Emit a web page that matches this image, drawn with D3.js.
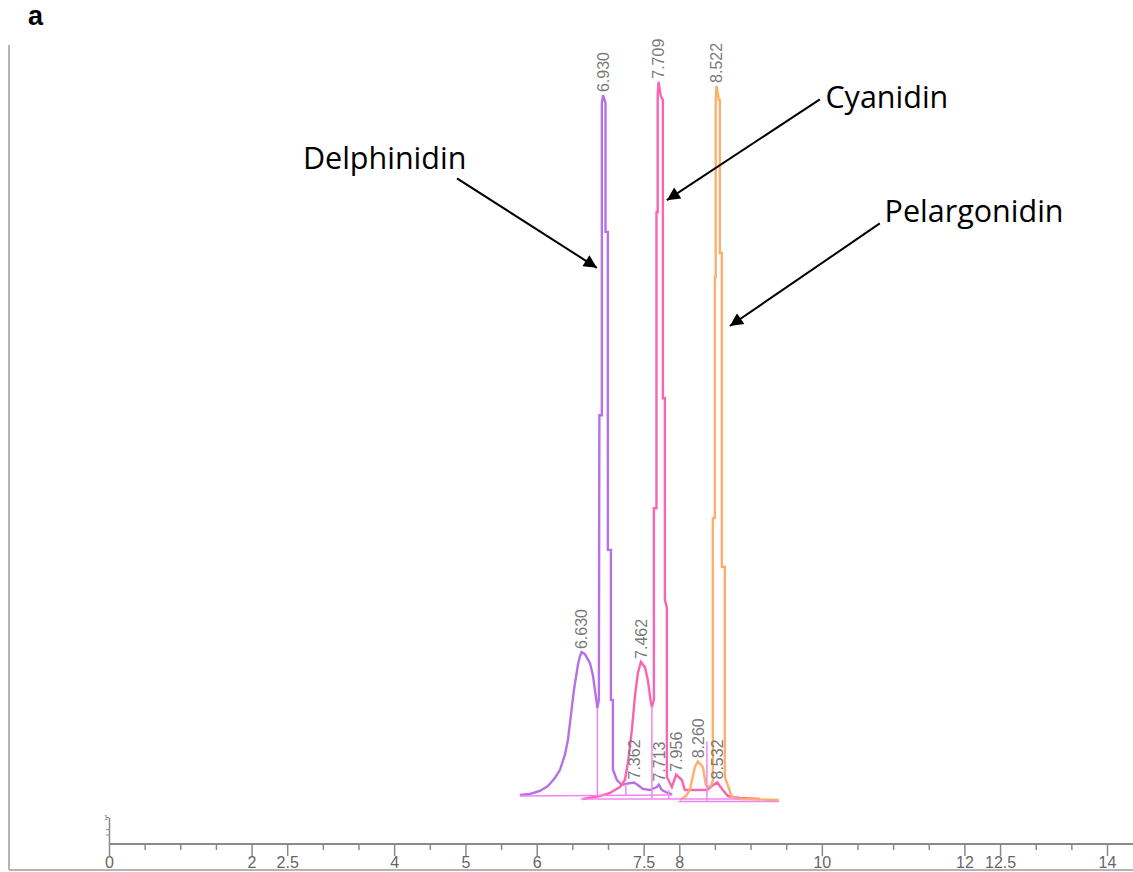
<!DOCTYPE html>
<html>
<head>
<title>Anthocyanidin chromatogram</title>
<script src="https://d3js.org/d3.v7.min.js" charset="utf-8"></script>
<style>
body {
    margin: 0;
    background: white;
}
svg { display: block; }
.peak-label {
    font-family: "Liberation Sans", Arial, sans-serif;
    font-size: 16px;
    fill: #7a7a7a;
}
.name {
    font-family: "Open Sans", "Noto Sans", sans-serif;
    font-size: 30.5px;
    fill: #000;
}
</style>
</head>
<body>
<script>
// traces: [retention time (min), relative intensity]
var delphinidin = [
  [5.764,0.43],[5.905,0.57],[6.045,0.99],[6.157,1.70],[6.255,2.84],[6.325,3.97],[6.395,6.10],
  [6.438,8.23],[6.480,11.77],[6.522,15.32],[6.578,18.87],[6.606,20.1],[6.630,20.7],[6.676,20.4],
  [6.746,19.15],[6.788,17.45],[6.830,14.33],[6.851,12.77],[6.872,13.9],[6.879,54.3],[6.914,54.3],
  [6.914,98.6],[6.930,99.7],[6.965,98.6],[6.965,80.3],[6.998,80.3],[6.998,35.2],[7.041,35.2],
  [7.041,13.9],[7.069,13.9],[7.069,4.0],[7.125,2.55],[7.195,1.84],[7.251,2.0],[7.362,2.2],
  [7.419,1.84],[7.489,1.28],[7.587,1.13],[7.686,1.56],[7.713,1.9],[7.756,1.13],[7.840,0.71],[7.900,0.5]
];
var cyanidin = [
  [6.648,-0.14],[6.886,0.28],[7.027,0.71],[7.167,1.56],[7.237,2.55],[7.279,4.96],[7.335,9.65],
  [7.377,14.33],[7.419,17.73],[7.462,19.3],[7.517,18.58],[7.559,16.74],[7.601,13.62],[7.616,12.91],
  [7.644,13.9],[7.644,41.1],[7.680,41.1],[7.680,83.1],[7.697,83.1],[7.697,99.6],[7.709,101.6],
  [7.740,99.6],[7.770,99.0],[7.770,56.7],[7.798,56.7],[7.798,28.1],[7.826,27.0],[7.826,2.98],
  [7.896,1.56],[7.956,3.3],[8.036,2.55],[8.078,1.13],[8.387,1.13],[8.457,1.70],[8.532,2.2],
  [8.611,1.13],[8.681,0.28],[8.850,0.0],[9.130,-0.14]
];
var pelargonidin = [
  [8.008,-0.28],[8.092,0.28],[8.149,1.13],[8.219,4.40],[8.260,5.2],[8.331,4.40],[8.373,1.84],
  [8.401,1.56],[8.443,1.70],[8.471,2.5],[8.471,39.7],[8.499,39.7],[8.499,73.9],[8.511,73.9],
  [8.511,99.0],[8.522,101.0],[8.555,99.0],[8.569,99.0],[8.569,77.3],[8.597,77.3],[8.597,32.8],
  [8.639,32.8],[8.639,2.98],[8.738,0.14],[8.850,-0.14],[9.397,-0.28]
];
var traceColors = ["#b870e6", "#f865b2", "#fdb06c"];

// integration marks: baselines [[t0,v0],[t1,v1]] and drop lines [t, top, bottom]
var baselines = [
  [[5.76,0.28],[7.90,0.43]],
  [[6.62,-0.14],[8.85,-0.14]],
  [[7.99,-0.5],[9.40,-0.5]]
];
var dropLines = [[6.851,12.77,0.3],[7.251,2.0,0.35],[7.616,12.9,-0.14],[7.854,1.1,-0.14],[8.387,8.0,-0.5]];

// peak labels
var peakTimes = [6.630, 6.930, 7.362, 7.713, 7.462, 7.709, 7.956, 8.532, 8.260, 8.522];
var peakHeights = [20.7, 99.7, 2.2, 1.9, 19.3, 101.6, 3.3, 2.2, 5.2, 101.0];

// axis
var tickValues = d3.range(0, 14.5, 0.5);
var tickLabels = [0, 2, 2.5, 4, 5, 6, 7.5, 8, 10, 12, 12.5, 14];

// annotations
var compoundNames = ["Delphinidin", "Cyanidin", "Pelargonidin"];
var namePos = [[2.72, 89.2], [10.05, 97.9], [10.88, 81.7]];
var arrowFrom = [[4.881, 87.9], [9.972, 99.1], [10.813, 81.5]];
var arrowTo = [[6.844, 75.2], [7.826, 84.8], [8.710, 66.95]];

var width = 1133;
var height = 872;
var svg = d3.select("body")
  .append("svg")
  .attr("width", width)
  .attr("height", height);

var x = d3.scaleLinear().domain([0, 14]).range([109, 1107]);
var y = d3.scaleLinear().domain([0, 100]).range([798, 93]);

svg.append("defs").append("marker")
  .attr("id", "arrow")
  .attr("viewBox", "0 0 10 10")
  .attr("refX", 10).attr("refY", 5)
  .attr("markerWidth", 17).attr("markerHeight", 13)
  .attr("markerUnits", "userSpaceOnUse")
  .attr("orient", "auto")
  .append("path").attr("d", "M0,0L10,5L0,10z").attr("fill", "#000");

// frame
svg.append("line").attr("x1", 9).attr("x2", 9).attr("y1", 45).attr("y2", 870)
  .attr("stroke", "#b4b4b4").attr("stroke-width", 2);
svg.append("line").attr("x1", 9).attr("x2", width).attr("y1", 870).attr("y2", 870)
  .attr("stroke", "#b4b4b4").attr("stroke-width", 2);

svg.append("text").attr("x", 28).attr("y", 25)
  .style("font-family", "Liberation Sans, Arial, sans-serif")
  .style("font-weight", "bold").style("font-size", "27px")
  .text("a");

// x axis
var axisY = 844;
var xAxis = d3.axisBottom(x)
  .tickValues(tickValues)
  .tickSize(6)
  .tickSizeOuter(0)
  .tickFormat(function(d) { return tickLabels.indexOf(d) >= 0 ? d : ""; });
var gx = svg.append("g")
  .attr("transform", "translate(0," + axisY + ")")
  .call(xAxis);
gx.select(".domain").remove();
gx.selectAll(".tick line")
  .attr("stroke", "#8a8a8a").attr("stroke-width", 1.5)
  .attr("y2", function(d) { return tickLabels.indexOf(d) >= 0 ? 12 : 6; });
gx.selectAll(".tick text")
  .attr("y", 13)
  .attr("fill", "#666")
  .style("font-family", "Liberation Sans, Arial, sans-serif")
  .style("font-size", "16px");
svg.append("line").attr("x1", x(0)).attr("x2", width).attr("y1", axisY).attr("y2", axisY)
  .attr("stroke", "#8a8a8a").attr("stroke-width", 2);

// tiny y stub
var yStub = d3.scaleLinear().domain([0, 1]).range([axisY, 817]);
var gy = svg.append("g").attr("transform", "translate(" + x(0) + ",0)")
  .call(d3.axisLeft(yStub).tickValues([0.35, 0.55, 1]).tickSize(3).tickSizeOuter(0)
    .tickFormat(function(d) { return d === 1 ? "1" : ""; }));
gy.select(".domain").attr("stroke", "#8a8a8a").attr("stroke-width", 1.5);
gy.selectAll(".tick line").attr("stroke", "#8a8a8a");
gy.selectAll(".tick text").style("font-size", "7px").attr("fill", "#777").attr("x", -1);

// traces
var line = d3.line()
  .x(function(d) { return x(d[0]); })
  .y(function(d) { return y(d[1]); });

svg.selectAll(".trace")
  .data([delphinidin, cyanidin, pelargonidin])
  .enter()
  .append("path")
  .attr("class", "trace")
  .attr("fill", "none")
  .attr("stroke", function(d, i) { return traceColors[i]; })
  .attr("stroke-width", 2.4)
  .attr("stroke-linejoin", "miter")
  .attr("d", line);

// integration lines
svg.selectAll(".base")
  .data(baselines)
  .enter()
  .append("path")
  .attr("class", "base")
  .attr("fill", "none")
  .attr("stroke", "#f285f2")
  .attr("stroke-width", 1.5)
  .attr("d", line);
svg.selectAll(".drop")
  .data(dropLines)
  .enter()
  .append("line")
  .attr("class", "drop")
  .attr("x1", function(d) { return x(d[0]); })
  .attr("x2", function(d) { return x(d[0]); })
  .attr("y1", function(d) { return y(d[1]); })
  .attr("y2", function(d) { return y(d[2]); })
  .attr("stroke", "#f285f2")
  .attr("stroke-width", 1.5);

// peak retention time labels
svg.selectAll(".peak-label")
  .data(peakTimes)
  .enter()
  .append("text")
  .attr("class", "peak-label")
  .attr("transform", function(d, i) {
    return "translate(" + x(d) + "," + (y(peakHeights[i]) - 3) + ") rotate(-90)";
  })
  .attr("dy", "0.36em")
  .text(function(d) { return d3.format(".3f")(d); });

// compound annotations
svg.selectAll(".arrow")
  .data(arrowFrom)
  .enter()
  .append("line")
  .attr("class", "arrow")
  .attr("x1", function(d) { return x(d[0]); })
  .attr("y1", function(d) { return y(d[1]); })
  .attr("x2", function(d, i) { return x(arrowTo[i][0]); })
  .attr("y2", function(d, i) { return y(arrowTo[i][1]); })
  .attr("stroke", "#000")
  .attr("stroke-width", 2)
  .attr("marker-end", "url(#arrow)");

svg.selectAll(".name")
  .data(compoundNames)
  .enter()
  .append("text")
  .attr("class", "name")
  .attr("x", function(d, i) { return x(namePos[i][0]); })
  .attr("y", function(d, i) { return y(namePos[i][1]); })
  .text(function(d) { return d; });
</script>
</body>
</html>
